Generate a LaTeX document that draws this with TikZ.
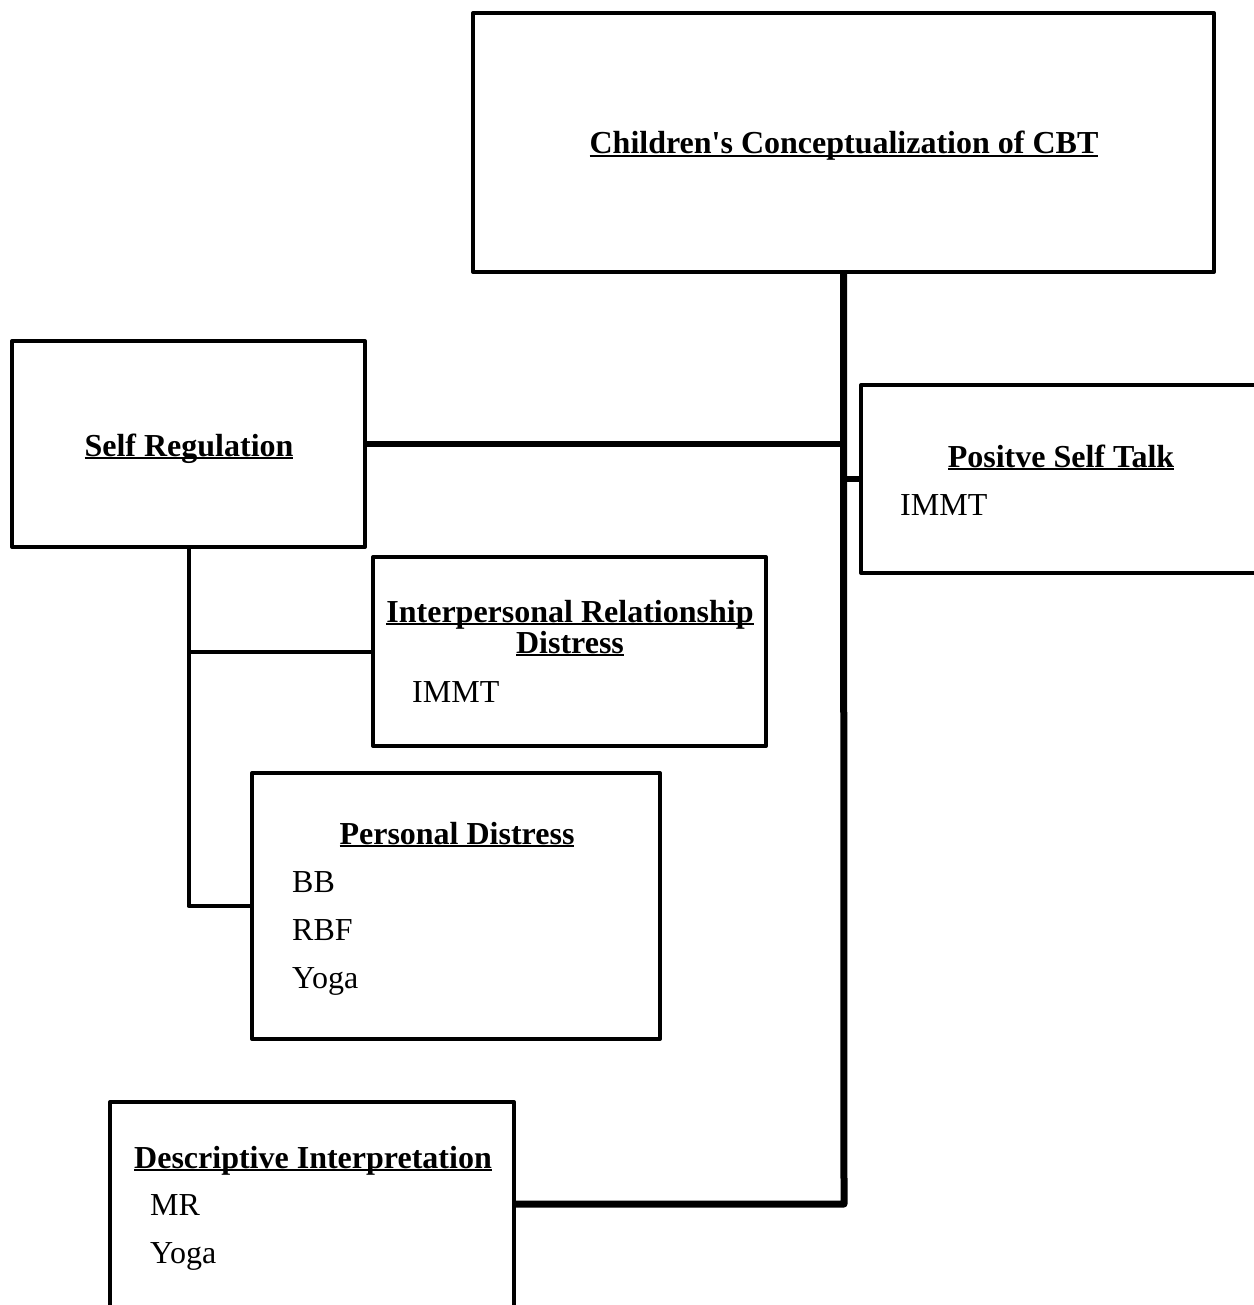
\documentclass[tikz,border=0pt]{standalone}
\usepackage{fontspec}
\setmainfont{Liberation Serif}
\newcommand\ulbf[1]{\setbox0\hbox{\bfseries #1}\rlap{\rule[-3.3pt]{\wd0}{2.6pt}}\box0}
\begin{document}
\begin{tikzpicture}[x=1pt,y=-1pt,
  box/.style={draw,line width=4pt,line join=round,inner sep=0pt,outer sep=0pt,anchor=north west},
  trunk/.style={line width=7pt,line join=round},
  conn/.style={line width=6pt,line join=round},
  thinconn/.style={line width=4pt,line join=round},
  head/.style={font=\fontsize{32}{36}\selectfont,inner sep=0pt,anchor=base},
  item/.style={font=\fontsize{32}{36}\selectfont,inner sep=0pt,anchor=base west}]
\useasboundingbox (0,0) rectangle (1253,1305);
% boxes
\node[box,minimum width=741pt,minimum height=259pt] (cbt) at (473,13) {};
\node[box,minimum width=353pt,minimum height=206pt] (self) at (12,341) {};
\node[box,minimum width=410pt,minimum height=188pt] (pos) at (861,385) {};
\node[box,minimum width=393pt,minimum height=189pt] (ip) at (373,557) {};
\node[box,minimum width=408pt,minimum height=266pt] (pd) at (252,773) {};
\node[box,minimum width=404pt,minimum height=215pt] (desc) at (110,1102) {};
% connectors
\coordinate (corner) at (844,1204);
\draw[trunk] (cbt.south) -- (corner) -- (desc.east |- corner);
\draw[conn] (self.east) -- (self.east -| cbt.south);
\draw[conn] (pos.west) -- (pos.west -| cbt.south);
\draw[thinconn] (self.south) -- (self.south |- pd.west) -- (pd.west);
\draw[thinconn] (self.south |- ip.west) -- (ip.west);
% texts
\node[head] (t1) at (844,154) {\ulbf{Children\textquotesingle s Conceptualization of CBT}};
\node[head] (t2) at (189,456) {\ulbf{Self Regulation}};
\node[head] (t3) at (1061,467) {\ulbf{Positve Self Talk}};
\node[item] (t3a) at (900,515) {IMMT};
\node[head] (t4) at (570,622) {\ulbf{Interpersonal Relationship}};
\node[head] (t4b) at (570,653) {\ulbf{Distress}};
\node[item] (t4a) at (412,702) {IMMT};
\node[head] (t5) at (457,844) {\ulbf{Personal Distress}};
\node[item] (t5a) at (292,892) {BB};
\node[item] (t5b) at (292,940) {RBF};
\node[item] (t5c) at (292,988) {Yoga};
\node[head] (t6) at (313,1168) {\ulbf{Descriptive Interpretation}};
\node[item] (t6a) at (150,1215) {MR};
\node[item] (t6b) at (150,1263) {Yoga};
\end{tikzpicture}
\end{document}
